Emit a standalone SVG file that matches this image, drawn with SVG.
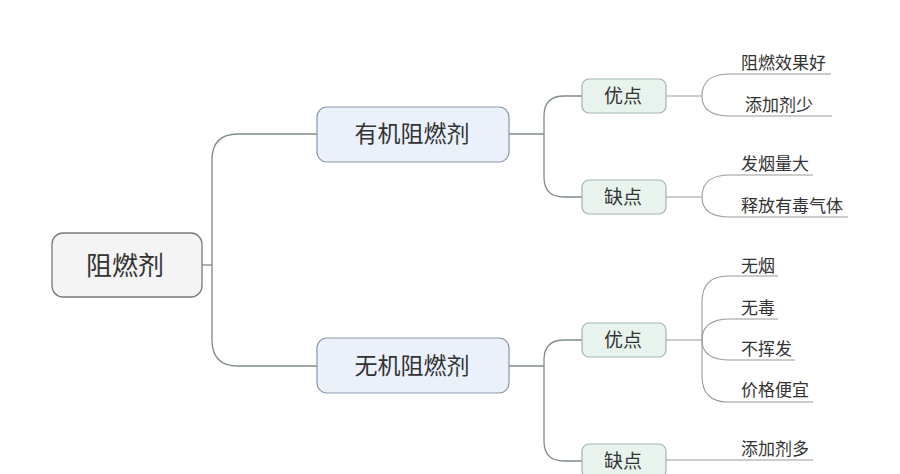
<svg xmlns="http://www.w3.org/2000/svg" width="900" height="474" viewBox="0 0 900 474">
<style>
text{font-family:"Noto Sans CJK SC","Liberation Sans",sans-serif;fill:#333;}
.root{fill:#f4f4f4;stroke:#7a7a7a;stroke-width:1.3;}
.l1{fill:#eaf1fb;stroke:#8a97a8;stroke-width:1.2;}
.l2{fill:#e8f3ee;stroke:#a3b5ad;stroke-width:1.2;}
.c{fill:none;stroke:#7f8a8a;stroke-width:1.3;}
.lf{fill:none;stroke:#9a9a9a;stroke-width:1.1;}
.t0{font-size:26px;text-anchor:middle;}
.t1{font-size:23px;text-anchor:middle;}
.t2{font-size:19px;text-anchor:middle;}
.t3{font-size:17px;}
</style>
<rect width="900" height="474" fill="#ffffff"/>
<g id="connectors">
<path class="c" d="M202,265 H212"/>
<path class="c" d="M317,134 H238 Q212,134 212,160 V340 Q212,366 238,366 H317"/>
<path class="c" d="M509,134 H544"/>
<path class="c" d="M582,96 H564 Q544,96 544,116 V177 Q544,197 564,197 H582"/>
<path class="c" d="M509,366 H544"/>
<path class="c" d="M582,340 H564 Q544,340 544,360 V441 Q544,461 564,461 H582"/>
<path class="lf" d="M666,96 H702"/>
<path class="lf" d="M702,96 C702,80 712,74 730,74 H831"/>
<path class="lf" d="M702,96 C702,110 712,116 730,116 H832"/>
<path class="lf" d="M666,197 H702"/>
<path class="lf" d="M702,197 C702,181 712,175 730,175 H813"/>
<path class="lf" d="M702,197 C702,211 712,217 730,217 H848"/>
<path class="lf" d="M666,340 H702"/>
<path class="lf" d="M702,340 V302 Q702,276 728,276 H778"/>
<path class="lf" d="M702,340 C702,325 712,319 730,319 H778"/>
<path class="lf" d="M702,340 C702,354 712,360 730,360 H795"/>
<path class="lf" d="M702,340 V376 Q702,402 728,402 H813"/>
<path class="lf" d="M666,460 H813"/>
</g>
<g id="root"><rect class="root" x="52" y="233" width="150" height="64" rx="11"/><text class="t0" x="125" y="275">阻燃剂</text></g>
<g id="organic"><rect class="l1" x="317" y="107" width="192" height="55" rx="10"/><text class="t1" x="412" y="142">有机阻燃剂</text></g>
<g id="inorganic"><rect class="l1" x="317" y="338" width="192" height="55" rx="10"/><text class="t1" x="412" y="374">无机阻燃剂</text></g>
<g id="org-pro"><rect class="l2" x="582" y="79" width="84" height="34" rx="7"/><text class="t2" x="623" y="103">优点</text></g>
<g id="org-con"><rect class="l2" x="582" y="180" width="84" height="34" rx="7"/><text class="t2" x="623" y="204">缺点</text></g>
<g id="inorg-pro"><rect class="l2" x="582" y="323" width="84" height="34" rx="7"/><text class="t2" x="623" y="347">优点</text></g>
<g id="inorg-con"><rect class="l2" x="582" y="444" width="84" height="34" rx="7"/><text class="t2" x="623" y="468">缺点</text></g>
<g id="leaf1"><text class="t3" x="741" y="69">阻燃效果好</text></g>
<g id="leaf2"><text class="t3" x="745" y="111">添加剂少</text></g>
<g id="leaf3"><text class="t3" x="741" y="170">发烟量大</text></g>
<g id="leaf4"><text class="t3" x="741" y="212">释放有毒气体</text></g>
<g id="leaf5"><text class="t3" x="741" y="272">无烟</text></g>
<g id="leaf6"><text class="t3" x="741" y="314">无毒</text></g>
<g id="leaf7"><text class="t3" x="741" y="355">不挥发</text></g>
<g id="leaf8"><text class="t3" x="741" y="396">价格便宜</text></g>
<g id="leaf9"><text class="t3" x="741" y="455">添加剂多</text></g>
</svg>
